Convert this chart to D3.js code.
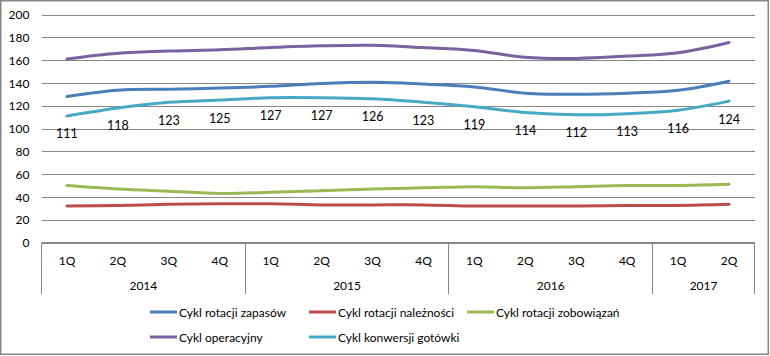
<!DOCTYPE html>
<html><head><meta charset="utf-8">
<script src="https://cdn.jsdelivr.net/npm/d3@7"></script>
<style>body{margin:0;background:#fff}svg{display:block}text{font-family:Lato,"Open Sans",sans-serif;fill:#000}</style>
</head><body><svg id="c" width="770" height="356"></svg>
<script>
const quarters = ["1Q","2Q","3Q","4Q","1Q","2Q","3Q","4Q","1Q","2Q","3Q","4Q","1Q","2Q"];
const years = [{label:"2014",n:4},{label:"2015",n:4},{label:"2016",n:4},{label:"2017",n:2}];
const yTicks = [0,20,40,60,80,100,120,140,160,180,200];
const zapasow = [128,133.5,134.5,135.5,137,139.5,140.5,139,136.5,131,130,131,133.5,141.5];
const naleznosci = [32,32.5,33.5,34,34,33,33,33,32,32,32,32.5,32.5,33.5];
const zobowiazan = [50,47,45,43,44,45.5,47,48,49,48,49,50,50,51];
const operacyjny = [161,166,168,169,171,172.5,173,171,168.5,162.5,161.5,163.5,166.5,175.5];
const gotowki = [111,118,123,125,127,127,126,123,119,114,112,113,116,124];
const seriesNames = ["Cykl rotacji zapasów","Cykl rotacji należności","Cykl rotacji zobowiązań","Cykl operacyjny","Cykl konwersji gotówki"];
const colors = ["#4A7EBB","#BE4B48","#98B954","#7D60A0","#46AAC5"];
const seriesData = [zapasow,naleznosci,zobowiazan,operacyjny,gotowki];

const svg = d3.select("#c");
const L=41.5, R=754.5, T=14.5, B=242.5;
svg.append("rect").attr("x",0.75).attr("y",0.75).attr("width",767.5).attr("height",353.5)
  .attr("fill","#fff").attr("stroke","#878787").attr("stroke-width",1.5);

const x = d3.scaleBand().domain(d3.range(quarters.length)).range([L,R]).padding(0);
const y = d3.scaleLinear().domain([0,200]).range([B,T]);

// gridlines
const yAxis = d3.axisLeft(y).tickValues(yTicks).tickSize(-(R-L)).tickPadding(12);
const gy = svg.append("g").attr("transform",`translate(${L},0)`).call(yAxis);
gy.select(".domain").remove();
gy.selectAll(".tick line").attr("stroke","#878787").attr("stroke-width",1).attr("shape-rendering","crispEdges");
gy.selectAll(".tick text").style("font-size","12px").attr("dy","0.35em");

// category axis
const gx = svg.append("g");
gx.append("line").attr("x1",L).attr("x2",R).attr("y1",B).attr("y2",B).attr("stroke","#878787").attr("shape-rendering","crispEdges");
quarters.forEach((q,i)=>{
  gx.append("text").attr("x",x(i)+x.bandwidth()/2).attr("y",264.5).attr("text-anchor","middle").style("font-size","12px").text(q);
});
let idx=0;
const bounds=[0];
years.forEach(yr=>{
  const x0=x(idx), x1=idx+yr.n<quarters.length? x(idx+yr.n):R;
  gx.append("text").attr("x",(x0+x1)/2).attr("y",290).attr("text-anchor","middle").style("font-size","12px").text(yr.label);
  idx+=yr.n; bounds.push(idx);
});
bounds.forEach(b=>{
  const xx = b<quarters.length? x(b):R;
  gx.append("line").attr("x1",xx).attr("x2",xx).attr("y1",B).attr("y2",294).attr("stroke","#878787").attr("shape-rendering","crispEdges");
});

// lines
const line = d3.line().x((d,i)=>x(i)+x.bandwidth()/2).y(d=>y(d)).curve(d3.curveCatmullRom.alpha(0.5));
seriesData.forEach((s,k)=>{
  svg.append("path").datum(s).attr("d",line).attr("fill","none").attr("stroke",colors[k]).attr("stroke-width",3).attr("stroke-linecap","round");
});

// data labels below cash conversion
gotowki.forEach((v,i)=>{
  svg.append("text").attr("x",x(i)+x.bandwidth()/2).attr("y",y(v)+22.5).attr("text-anchor","middle").style("font-size","12.5px").text(v);
});

// legend
const legPos=[[150,312],[309,312],[467,312],[150,337],[309,337]];
seriesNames.forEach((n,k)=>{
  const [lx,ly]=legPos[k];
  svg.append("line").attr("x1",lx).attr("x2",lx+27).attr("y1",ly).attr("y2",ly).attr("stroke",colors[k]).attr("stroke-width",3);
  svg.append("text").attr("x",lx+29).attr("y",ly+4.5).style("font-size","12px").text(n);
});
</script></body></html>
